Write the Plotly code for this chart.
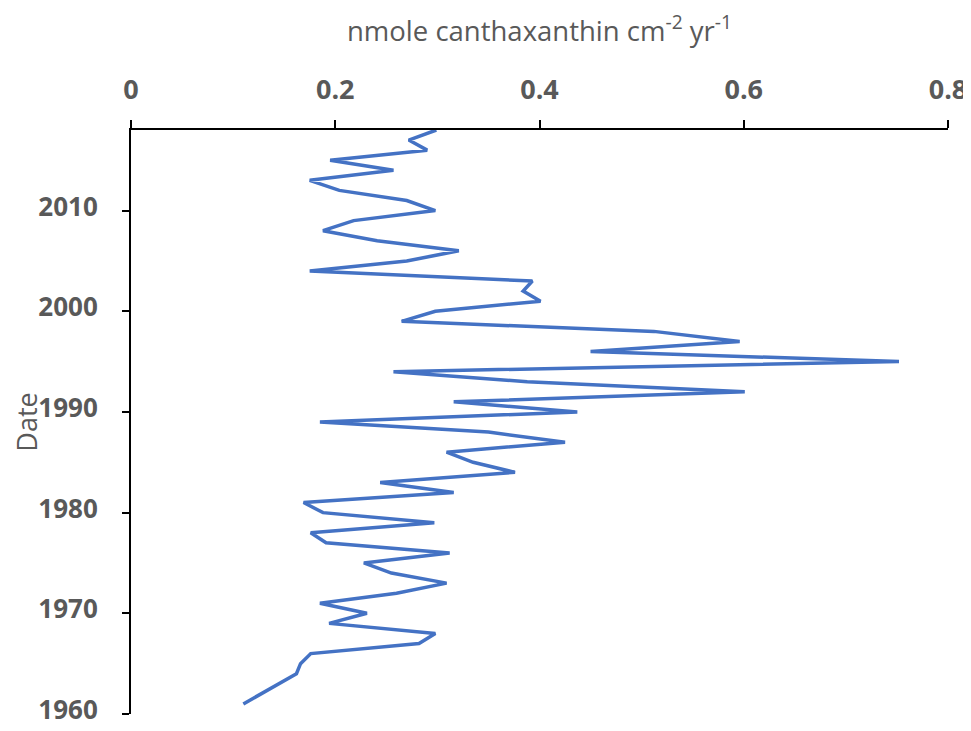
import plotly.graph_objects as go

years = list(range(1961, 2019))
canthaxanthin = [
    0.110, 0.127, 0.144, 0.162, 0.166, 0.176, 0.282, 0.298, 0.194, 0.231,
    0.185, 0.260, 0.309, 0.255, 0.228, 0.312, 0.191, 0.176, 0.297, 0.188,
    0.169, 0.316, 0.244, 0.376, 0.335, 0.309, 0.425, 0.350, 0.185, 0.437,
    0.316, 0.601, 0.388, 0.257, 0.752, 0.450, 0.596, 0.512, 0.265, 0.298,
    0.401, 0.384, 0.393, 0.175, 0.270, 0.321, 0.241, 0.188, 0.218, 0.298,
    0.270, 0.204, 0.175, 0.257, 0.195, 0.290, 0.272, 0.299,
]
x_ticks = [0, 0.2, 0.4, 0.6, 0.8]
x_tick_labels = ["0", "0.2", "0.4", "0.6", "0.8"]
y_ticks = [1960, 1970, 1980, 1990, 2000, 2010]

grey = "#595959"
font_family = "Open Sans, Noto Sans, sans-serif"

fig = go.Figure()
fig.add_trace(go.Scatter(
    x=canthaxanthin, y=years, mode="lines",
    line=dict(color="#4472C4", width=3.5),
    showlegend=False, hoverinfo="x+y",
))

# the page body has an 8px default margin, so the figure is sized to fit the window without scrolling
fig.update_layout(
    width=963, height=715,
    margin=dict(l=123, r=23, t=122, b=9),
    paper_bgcolor="white", plot_bgcolor="white",
    font=dict(family=font_family, color=grey),
    xaxis=dict(
        side="top", range=[0, 0.8], tickvals=x_ticks, ticktext=x_tick_labels,
        showgrid=False, zeroline=False, automargin=False,
        ticklabeloverflow="allow",
        showline=True, linecolor="black", linewidth=2,
        ticks="outside", ticklen=8, tickwidth=2, tickcolor="black",
        tickfont=dict(size=27, family=font_family, color=grey, weight="bold"),
        ticklabelstandoff=10,
        title=dict(text="nmole canthaxanthin cm<sup>-2</sup> yr<sup>-1</sup>",
                   font=dict(size=27.5, color=grey, family=font_family), standoff=22),
        anchor="y",
    ),
    yaxis=dict(
        range=[1960, 2018], tickvals=y_ticks,
        showgrid=False, zeroline=False, automargin=False,
        ticklabeloverflow="allow",
        showline=True, linecolor="black", linewidth=2,
        ticks="outside", ticklen=7, tickwidth=2, tickcolor="black",
        tickfont=dict(size=26, family=font_family, color=grey, weight="bold"),
        ticklabelstandoff=19, ticklabelshift=-4,
        title=dict(text="Date", font=dict(size=27, color=grey, family=font_family), standoff=2),
    ),
)

fig.write_html("out.html")
